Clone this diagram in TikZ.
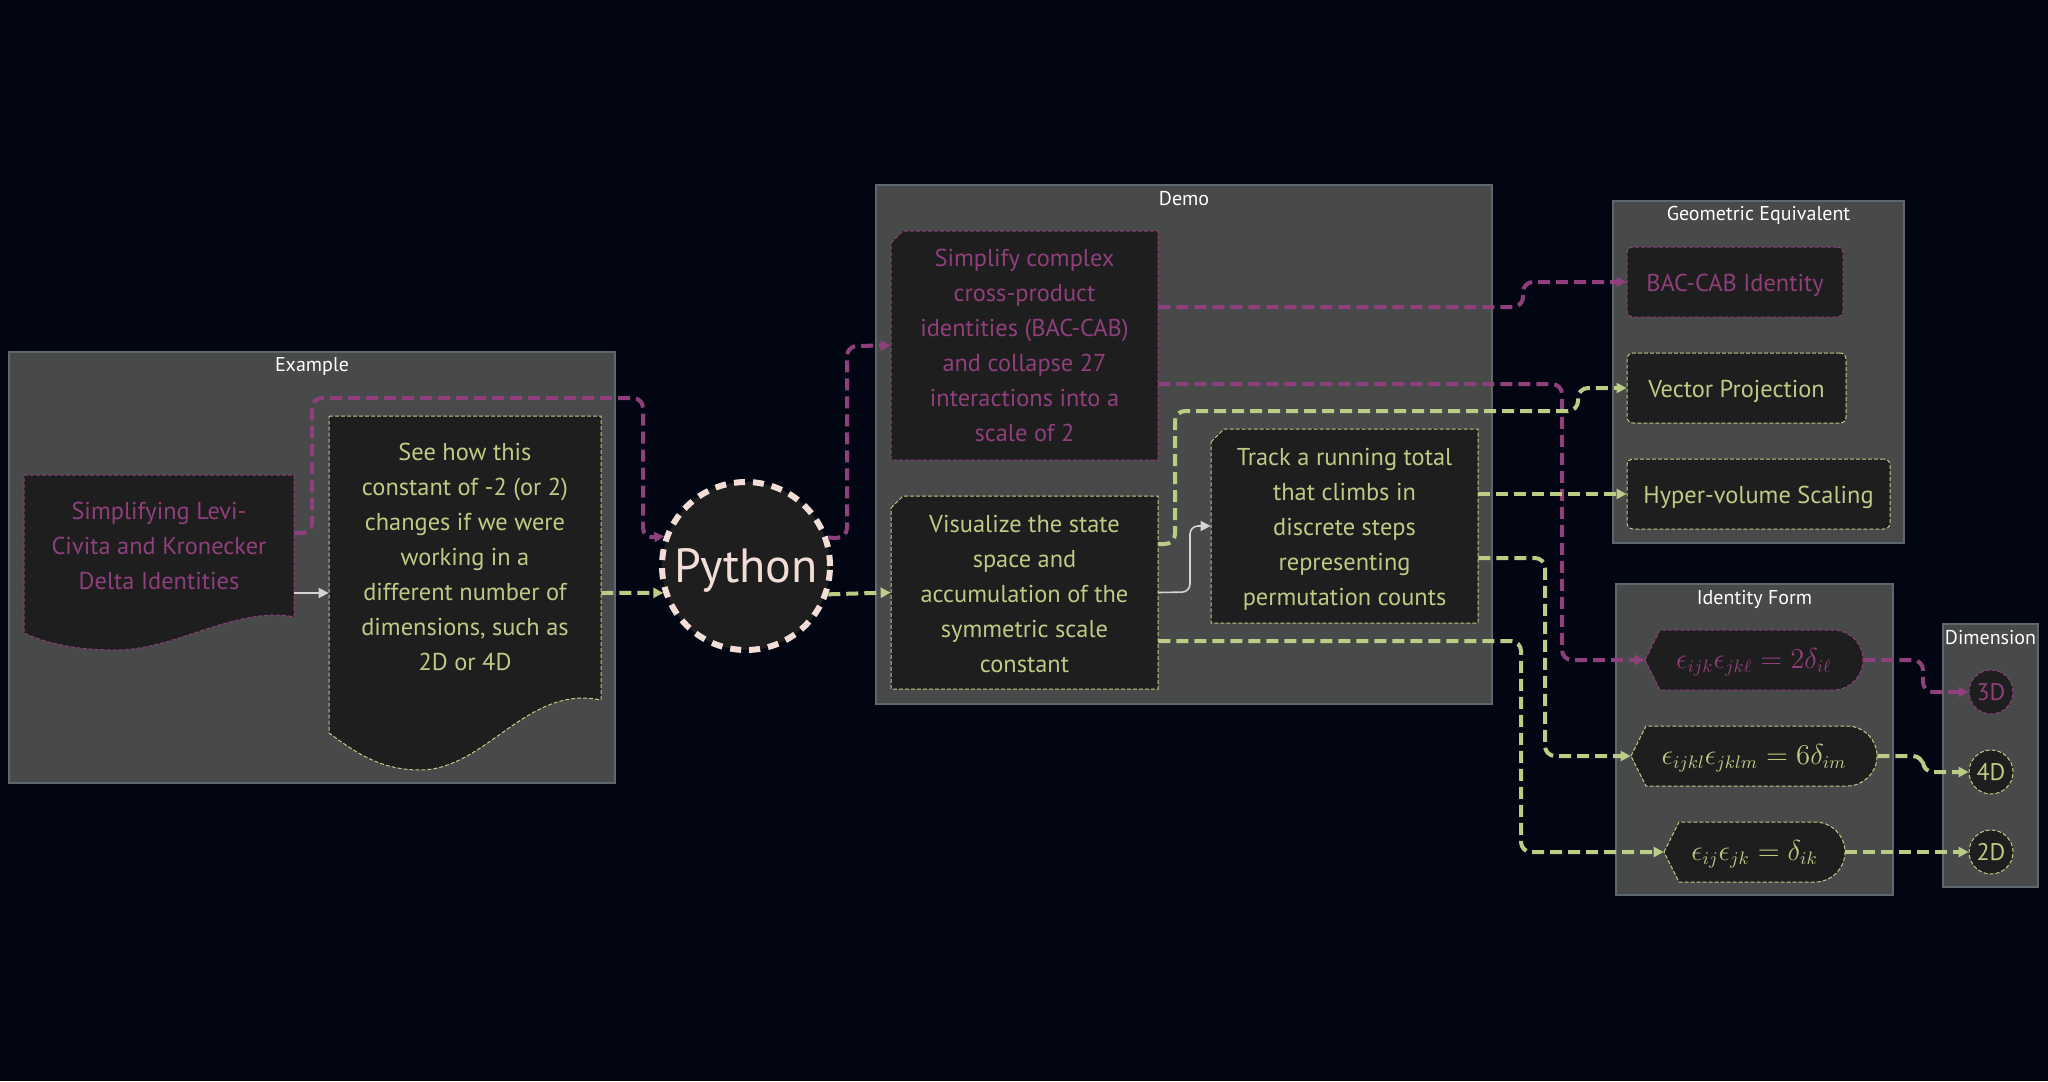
\documentclass[tikz,border=0pt]{standalone}
\usepackage{fontspec}
\setmainfont{PT Sans}
\usetikzlibrary{arrows.meta,calc}
\definecolor{bg}{HTML}{020612}
\definecolor{clfill}{HTML}{484A4A}
\definecolor{cldraw}{HTML}{5E6670}
\definecolor{nfill}{HTML}{1E1E1E}
\definecolor{pk}{HTML}{8F3F7C}
\definecolor{gr}{HTML}{BDCC85}
\definecolor{pyc}{HTML}{F2DDD7}
\definecolor{gy}{HTML}{D4D4D4}
\tikzset{
  cluster/.style={rectangle, fill=clfill, draw=cldraw, line width=0.6pt, inner sep=0pt},
  ctitle/.style={text=white, font=\fontsize{10}{12}\selectfont, inner sep=0pt},
  txt/.style={font=\fontsize{12.2}{17.5}\selectfont, align=center, inner sep=0pt},
  pktxt/.style={txt, text=pk},
  grtxt/.style={txt, text=gr},
  pkshape/.style={fill=nfill, draw=pk, line width=0.5pt, dash pattern=on 2pt off 1pt},
  grshape/.style={fill=nfill, draw=gr, line width=0.5pt, dash pattern=on 2pt off 1pt},
  onebox/.style={rectangle, rounded corners=3pt, font=\fontsize{12.2}{14}\selectfont, inner sep=0pt,
    text height=12.9pt, text depth=3pt},
  pkbox/.style={pkshape, onebox, text=pk},
  grbox/.style={grshape, onebox, text=gr},
  mathtxt/.style={inner sep=0pt, font=\fontsize{13.5}{16}\selectfont, text height=12.5pt, text depth=4.5pt},
  dimnode/.style={circle, minimum size=22pt, inner sep=0pt, font=\fontsize{12}{14}\selectfont},
  pklink/.style={draw=pk, line width=2pt, dash pattern=on 6pt off 3pt, rounded corners=5pt, -{Triangle[length=5pt,width=5pt]}},
  grlink/.style={draw=gr, line width=2pt, dash pattern=on 6pt off 3pt, rounded corners=5pt, -{Triangle[length=5pt,width=5pt]}},
  gylink/.style={draw=gy, line width=0.8pt, rounded corners=4pt, -{Triangle[length=5pt,width=5pt]}},
}
\begin{document}
\begin{tikzpicture}[x=0.5pt,y=-0.5pt]
\useasboundingbox (0,0) rectangle (2048,1081);
\fill[bg] (0,0) rectangle (2048,1081);

% clusters
\node[cluster, minimum width=303pt, minimum height=215.5pt] (clEx) at (312,567.5) {};
\node[ctitle] (tEx) at (312,366) {Example};
\node[cluster, minimum width=308pt, minimum height=259.5pt] (clDemo) at (1184,444.5) {};
\node[ctitle] (tDemo) at (1184,199) {Demo};
\node[cluster, minimum width=145.5pt, minimum height=171pt] (clGeo) at (1758.5,372) {};
\node[ctitle] (tGeo) at (1758.5,215) {Geometric Equivalent};
\node[cluster, minimum width=138.5pt, minimum height=155.5pt] (clId) at (1754.5,739.5) {};
\node[ctitle] (tId) at (1754.5,599) {Identity Form};
\node[cluster, minimum width=47.5pt, minimum height=131.5pt] (clDim) at (1990.5,755.5) {};
\node[ctitle] (tDim) at (1990.5,638) {Dimension};

% shapes drawn directly
\path[pkshape] (24,475) -- (294,475) -- (294,617) .. controls (289,616) and (284,615) .. (276,615)
  .. controls (222,615) and (170,650) .. (116,650) .. controls (80,650) and (50,645) .. (24,633) -- cycle;
\path[grshape] (329,416) -- (601,416) -- (601,700) .. controls (595,699) and (590,698) .. (583,698)
  .. controls (520,698) and (480,770) .. (420,770) .. controls (380,770) and (355,752) .. (329,733) -- cycle;
\path[pkshape] (891,243) -- (903,231) -- (1158,231) -- (1158,460) -- (891,460) -- cycle;
\path[grshape] (891,508) -- (903,496) -- (1158,496) -- (1158,689) -- (891,689) -- cycle;
\path[grshape] (1211,442) -- (1224,429) -- (1478,429) -- (1478,623) -- (1211,623) -- cycle;
\path[pkshape] (1645,660) -- (1660,630) -- (1833,630) arc[start angle=-90, end angle=90, radius=30] -- (1660,690) -- cycle;
\path[grshape] (1631,756) -- (1646,726) -- (1847,726) arc[start angle=-90, end angle=90, radius=30] -- (1646,786) -- cycle;
\path[grshape] (1664,852) -- (1679,822) -- (1815,822) arc[start angle=-90, end angle=90, radius=30] -- (1679,882) -- cycle;

% nodes
\node[pktxt, minimum width=135pt, minimum height=71pt] (doc1) at (159,546)
  {Simplifying Levi-\\Civita and Kronecker\\Delta Identities};
\node[grtxt, minimum width=136pt, minimum height=141pt] (doc2) at (465,557)
  {See how this\\constant of -2 (or 2)\\changes if we were\\working in a\\different number of\\dimensions, such as\\2D or 4D};
\node[circle, minimum size=84pt, inner sep=0pt, fill=nfill, draw=pyc, line width=3pt,
  dash pattern=on 5.5pt off 4pt, text=pyc, font=\fontsize{24}{28}\selectfont,
  text height=21pt, text depth=5pt] (py) at (746,566) {Python};
\node[pktxt, minimum width=133.5pt, minimum height=114.5pt] (card1) at (1024.5,345.5)
  {Simplify complex\\cross-product\\identities (BAC-CAB)\\and collapse 27\\interactions into a\\scale of 2};
\node[grtxt, minimum width=133.5pt, minimum height=96.5pt] (card2) at (1024.5,593.5)
  {Visualize the state\\space and\\accumulation of the\\symmetric scale\\constant};
\node[grtxt, minimum width=133.5pt, minimum height=97pt] (card3) at (1344.5,529)
  {Track a running total\\that climbs in\\discrete steps\\representing\\permutation counts};
\node[pkbox, minimum width=108pt, minimum height=35pt] (bac) at (1735,282) {BAC-CAB Identity};
\node[grbox, minimum width=109.5pt, minimum height=35pt] (vp) at (1736.5,388) {Vector Projection};
\node[grbox, minimum width=131.5pt, minimum height=35pt] (hv) at (1758.5,494) {Hyper-volume Scaling};
\node[mathtxt, text=pk, minimum width=109pt, minimum height=30pt] (e1) at (1754,660)
  {$\epsilon_{ijk}\epsilon_{jk\ell} = 2\delta_{i\ell}$};
\node[mathtxt, text=gr, minimum width=123pt, minimum height=30pt] (e2) at (1754,756)
  {$\epsilon_{ijkl}\epsilon_{jklm} = 6\delta_{im}$};
\node[mathtxt, text=gr, minimum width=90.5pt, minimum height=30pt] (e3) at (1754.5,852)
  {$\epsilon_{ij}\epsilon_{jk} = \delta_{ik}$};
\node[dimnode, pkshape, text=pk] (d3) at (1991,692) {3D};
\node[dimnode, grshape, text=gr] (d4) at (1991,772) {4D};
\node[dimnode, grshape, text=gr] (d2) at (1991,852) {2D};

% connectors
\draw[gylink] ([yshift=-23.5pt]doc1.east) -- ([yshift=-18pt]doc2.west);
\draw[pklink] ([yshift=6.5pt]doc1.east) -- (312,533) -- (312,398) -- (643,398) -- (643,538) -- (py.160.5);
\draw[grlink] ([yshift=-18pt]doc2.east) -- (py.198.7);
\draw[pklink] (py.19.5) -- (847,538) -- (847,346) -- (card1.west);
\draw[grlink] (py.341.3) -- ([yshift=0.5pt]card2.west);
\draw[gylink] ([yshift=0.5pt]card2.east) -- (1190,592) -- (1190,526) -- ([yshift=1.5pt]card3.west);
\draw[pklink] ([yshift=19.25pt]card1.east) -- (1523,307) -- (1523,282) -- (bac.west);
\draw[pklink] ([yshift=-19.25pt]card1.east) -- (1562,384) -- (1562,660) -- (e1.west);
\draw[grlink] ([yshift=24.75pt]card2.east) -- (1175,544) -- (1175,411) -- (1578,411) -- (1578,388) -- (vp.west);
\draw[grlink] ([yshift=17.5pt]card3.east) -- (hv.west);
\draw[grlink] ([yshift=-14.5pt]card3.east) -- (1545,558) -- (1545,756) -- (e2.west);
\draw[grlink] ([yshift=-23.75pt]card2.east) -- (1521,641) -- (1521,852) -- (e3.west);
\draw[pklink] (e1.east) -- (1923,660) -- (1923,692) -- (d3.west);
\draw[grlink] (e2.east) -- (1923,756) -- (1923,772) -- (d4.west);
\draw[grlink] (e3.east) -- (d2.west);
\end{tikzpicture}
\end{document}
